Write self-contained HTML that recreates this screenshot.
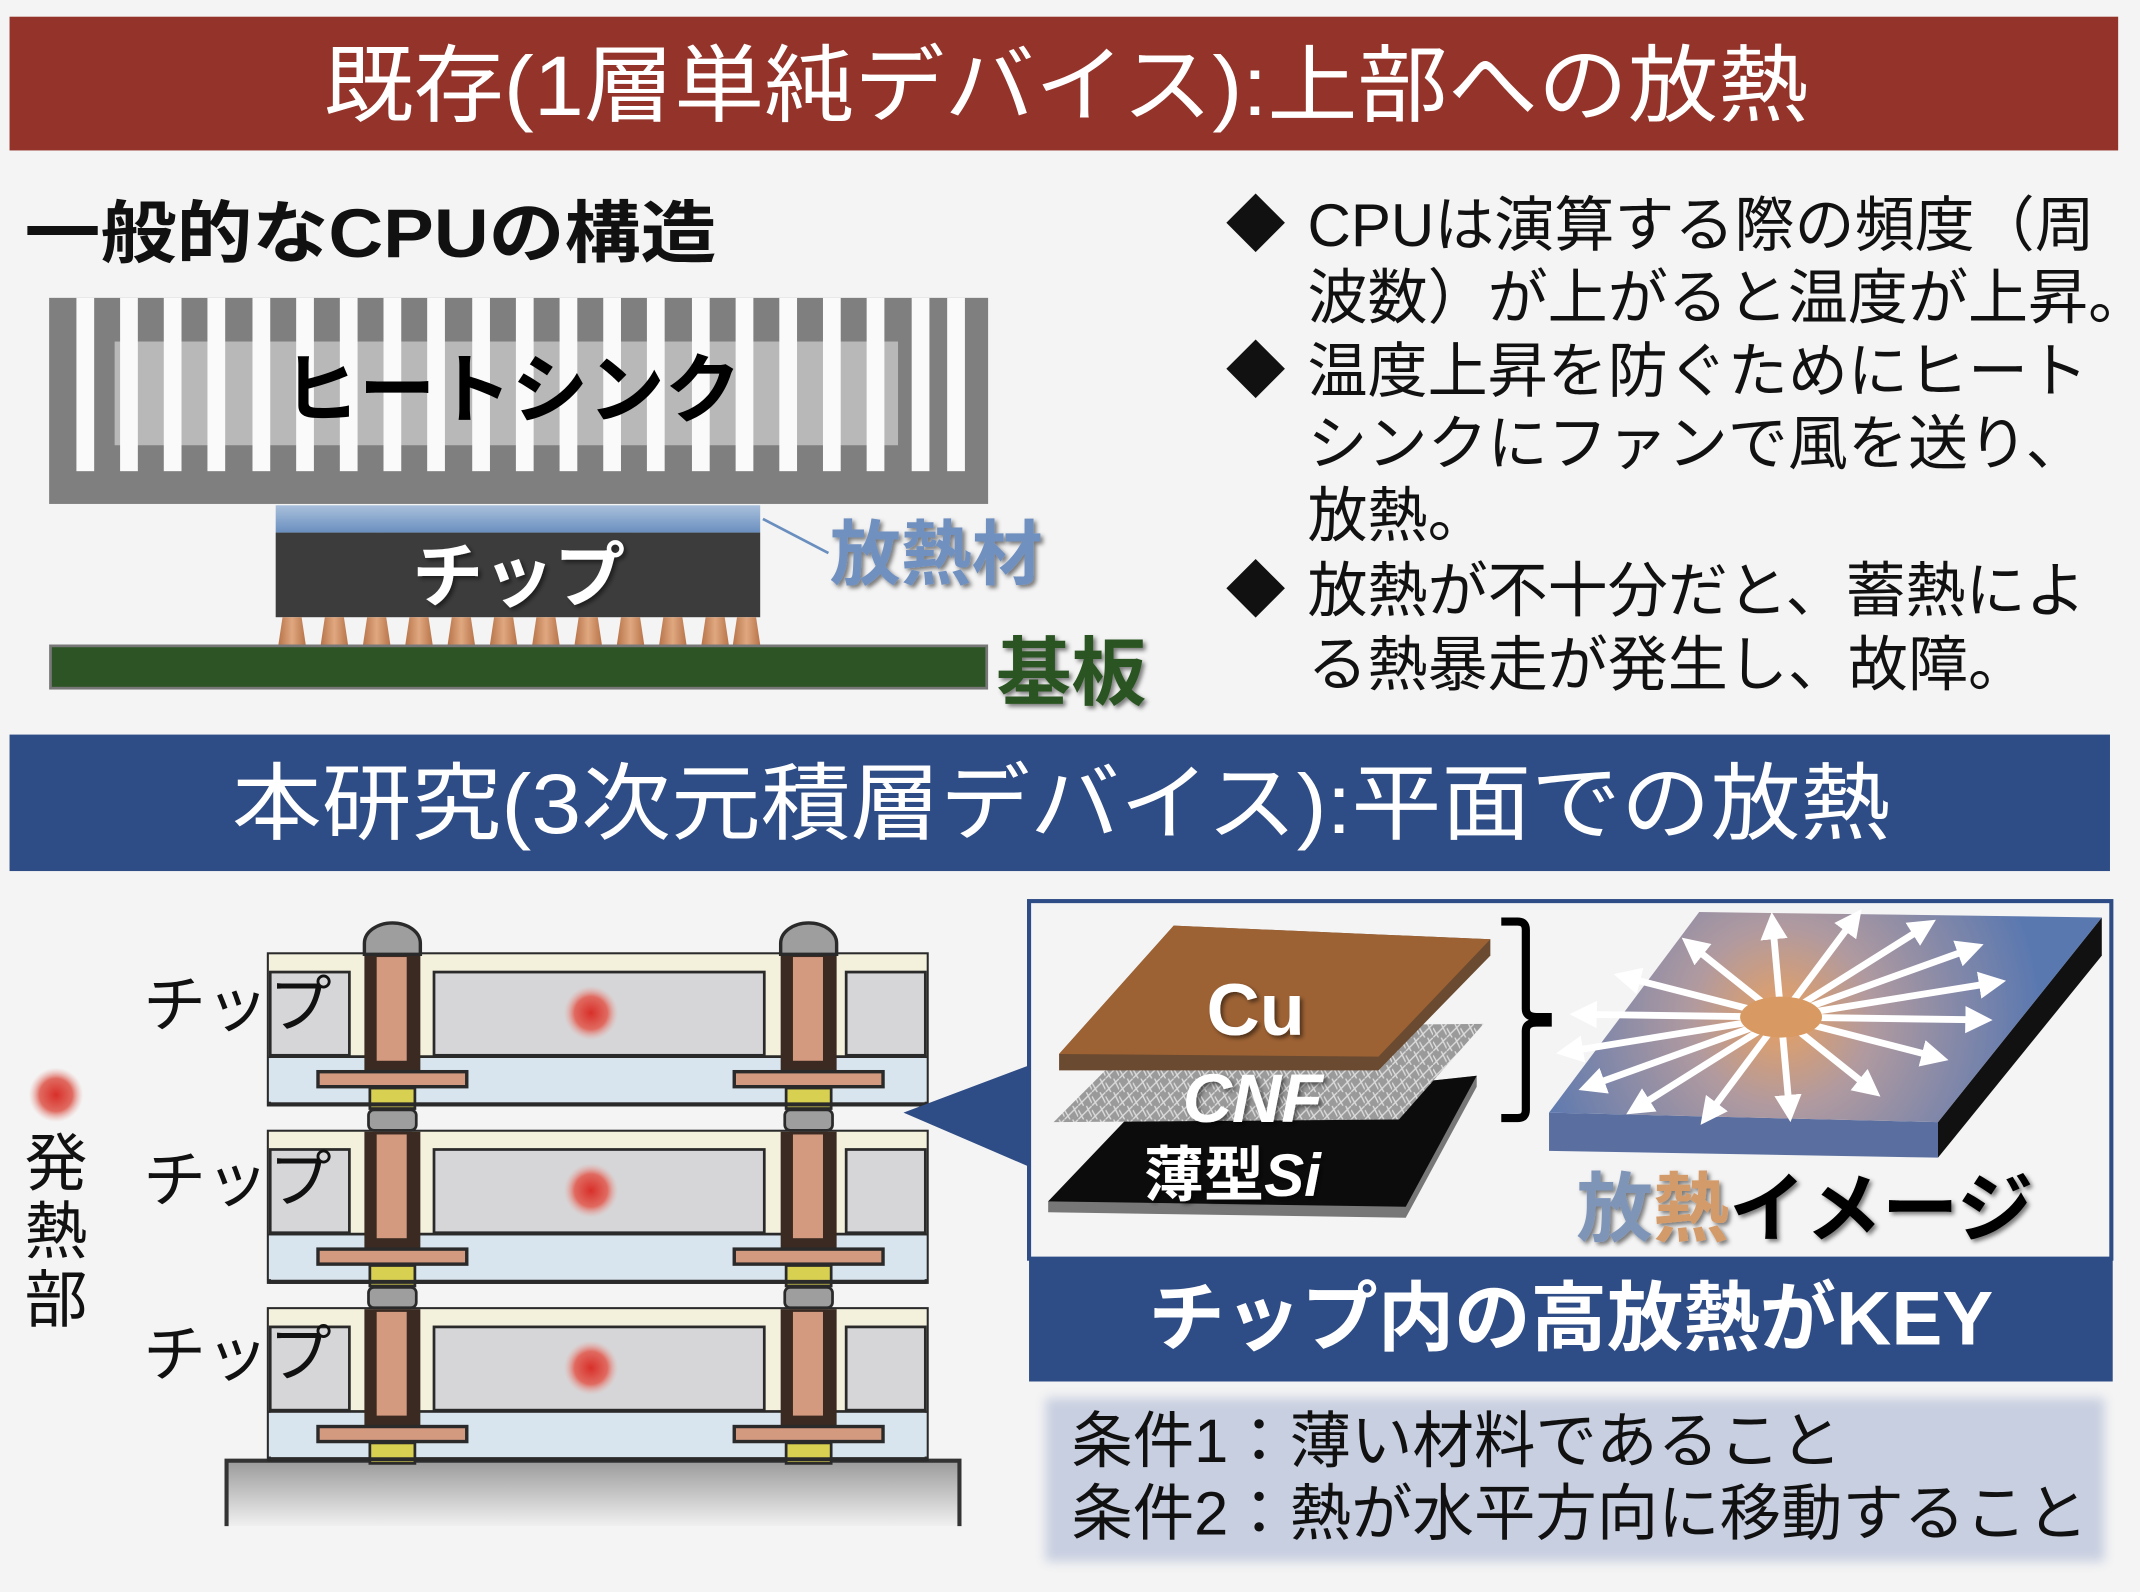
<!DOCTYPE html>
<html><head><meta charset="utf-8"><style>
html,body{margin:0;padding:0;background:#f4f4f4;}
svg{display:block;}
text{font-family:"Liberation Sans","Noto Sans CJK JP",sans-serif;}
</style></head><body>
<svg width="2140" height="1592" viewBox="0 0 1568 1166" xmlns="http://www.w3.org/2000/svg">
<defs>
<radialGradient id="dot"><stop offset="0" stop-color="#d8302a"/><stop offset="0.6" stop-color="#e06a60"/><stop offset="1" stop-color="#e8b0aa" stop-opacity="0"/></radialGradient>
<linearGradient id="base" x1="0" y1="0" x2="0" y2="1"><stop offset="0" stop-color="#9a9a9a"/><stop offset="1" stop-color="#f0f0f0"/></linearGradient>
<linearGradient id="tim" x1="0" y1="0" x2="0" y2="1"><stop offset="0" stop-color="#a9c0dc"/><stop offset="1" stop-color="#6a8fbf"/></linearGradient>
<linearGradient id="bump" x1="0" y1="0" x2="1" y2="0"><stop offset="0" stop-color="#b8744a"/><stop offset="0.5" stop-color="#e0a880"/><stop offset="1" stop-color="#b8744a"/></linearGradient>
<radialGradient id="slab" gradientUnits="userSpaceOnUse" cx="1305" cy="745" r="190"><stop offset="0" stop-color="#e8a060"/><stop offset="0.35" stop-color="#b09aa0"/><stop offset="1" stop-color="#5a78b0"/></radialGradient>
<pattern id="cnf" width="10" height="10" patternUnits="userSpaceOnUse"><rect width="10" height="10" fill="#9a9a9a"/><path d="M0 10L10 0M0 3L4 10M6 0L10 8" stroke="#dcdcdc" stroke-width="1"/></pattern>
<marker id="ah" markerWidth="4" markerHeight="4" refX="2" refY="2" orient="auto"><path d="M0 0L4 2L0 4Z" fill="#fff"/></marker>
<filter id="bl"><feGaussianBlur stdDeviation="4"/></filter>
<filter id="sh"><feDropShadow dx="2" dy="2" stdDeviation="1.5" flood-color="#000" flood-opacity="0.5"/></filter>
</defs>

<rect x="7" y="12" width="1545" height="98" fill="#943329"/>
<text x="237" y="84" font-size="62" fill="#fff" textLength="1088" lengthAdjust="spacingAndGlyphs">既存(1層単純デバイス):上部への放熱</text>

<text x="18" y="188" font-size="50" font-weight="bold" fill="#111" textLength="507" lengthAdjust="spacingAndGlyphs">一般的なCPUの構造</text>

<rect x="36" y="218" width="688" height="151" fill="#7f7f7f"/>
<rect x="84" y="250" width="574" height="76" fill="#b8b8b8"/>
<g fill="#fafafa">
<rect x="56" y="218" width="13" height="127"/><rect x="88" y="218" width="13" height="127"/><rect x="120" y="218" width="13" height="127"/><rect x="152" y="218" width="13" height="127"/><rect x="185" y="218" width="13" height="127"/><rect x="217" y="218" width="13" height="127"/><rect x="249" y="218" width="13" height="127"/><rect x="281" y="218" width="13" height="127"/><rect x="313" y="218" width="13" height="127"/><rect x="346" y="218" width="13" height="127"/><rect x="378" y="218" width="13" height="127"/><rect x="410" y="218" width="13" height="127"/><rect x="442" y="218" width="13" height="127"/><rect x="474" y="218" width="13" height="127"/><rect x="507" y="218" width="13" height="127"/><rect x="539" y="218" width="13" height="127"/><rect x="571" y="218" width="13" height="127"/><rect x="603" y="218" width="13" height="127"/><rect x="635" y="218" width="13" height="127"/><rect x="668" y="218" width="13" height="127"/><rect x="694" y="218" width="13" height="127"/>
</g>
<text x="375" y="305" font-size="56" font-weight="bold" fill="#000" text-anchor="middle">ヒートシンク</text>

<rect x="202" y="370" width="355" height="20" fill="url(#tim)"/>
<rect x="202" y="390" width="355" height="62" fill="#3c3c3c"/>
<text x="380" y="440" font-size="52" font-weight="bold" fill="#fff" text-anchor="middle" filter="url(#sh)">チップ</text>
<g fill="url(#bump)">
<path d="M207 452h14l3 20h-20z"/><path d="M238 452h14l3 20h-20z"/><path d="M269 452h14l3 20h-20z"/><path d="M300 452h14l3 20h-20z"/><path d="M331 452h14l3 20h-20z"/><path d="M362 452h14l3 20h-20z"/><path d="M393 452h14l3 20h-20z"/><path d="M424 452h14l3 20h-20z"/><path d="M455 452h14l3 20h-20z"/><path d="M486 452h14l3 20h-20z"/><path d="M517 452h14l3 20h-20z"/><path d="M540 452h14l3 20h-20z"/>
</g>
<rect x="37" y="473" width="686" height="31" fill="#2c5424" stroke="#777" stroke-width="2"/>
<line x1="559" y1="380" x2="607" y2="405" stroke="#6a8fbf" stroke-width="2"/>
<text x="608" y="424" font-size="52" font-weight="bold" fill="#7090c0" filter="url(#sh)">放熱材</text>
<text x="730" y="512" font-size="55" font-weight="bold" fill="#2c5424" filter="url(#sh)">基板</text>

<g font-size="44" fill="#111">
<text x="898" y="180">◆</text><text x="958" y="180">CPUは演算する際の頻度（周</text>
<text x="958" y="233">波数）が上がると温度が上昇。</text>
<text x="898" y="287">◆</text><text x="958" y="287">温度上昇を防ぐためにヒート</text>
<text x="958" y="340">シンクにファンで風を送り、</text>
<text x="958" y="393">放熱。</text>
<text x="898" y="448">◆</text><text x="958" y="448">放熱が不十分だと、蓄熱によ</text>
<text x="958" y="502">る熱暴走が発生し、故障。</text>
</g>

<rect x="7" y="538" width="1539" height="100" fill="#2e4c85"/>
<text x="170" y="610" font-size="62" fill="#fff" textLength="1215" lengthAdjust="spacingAndGlyphs">本研究(3次元積層デバイス):平面での放熱</text>

<!-- stack -->
<rect x="166" y="1070" width="537" height="48" fill="url(#base)"/>
<path d="M166 1118V1070H703V1118" fill="none" stroke="#333" stroke-width="3"/>
<g id="chip">
<rect x="197" y="699" width="482" height="110" fill="#d8e4ee" stroke="#2a2a2a" stroke-width="3"/>
<rect x="197" y="699" width="482" height="75" fill="#f3f0dc"/>
<rect x="198" y="712" width="58" height="61" fill="#d6d6d8" stroke="#2a2a2a" stroke-width="2"/>
<rect x="318" y="712" width="242" height="61" fill="#d6d6d8" stroke="#2a2a2a" stroke-width="2"/>
<rect x="620" y="712" width="58" height="61" fill="#d6d6d8" stroke="#2a2a2a" stroke-width="2"/>
<line x1="197" y1="774" x2="679" y2="774" stroke="#2a2a2a" stroke-width="2"/>
<rect x="197" y="775" width="482" height="32" fill="#d8e4ee"/>
<rect x="267" y="699" width="41" height="85" fill="#3a2a22"/><rect x="276" y="701" width="22" height="76" fill="#d49a80"/>
<rect x="572" y="699" width="41" height="85" fill="#3a2a22"/><rect x="581" y="701" width="22" height="76" fill="#d49a80"/>
<rect x="233" y="785" width="109" height="11" fill="#d49a80" stroke="#2a2a2a" stroke-width="2.5"/>
<rect x="538" y="785" width="109" height="11" fill="#d49a80" stroke="#2a2a2a" stroke-width="2.5"/>
<rect x="271" y="797" width="33" height="15" fill="#d8d050" stroke="#2a2a2a" stroke-width="2"/>
<rect x="576" y="797" width="33" height="15" fill="#d8d050" stroke="#2a2a2a" stroke-width="2"/>
<line x1="197" y1="809" x2="679" y2="809" stroke="#2a2a2a" stroke-width="3"/>
<circle cx="433" cy="742" r="20" fill="url(#dot)"/>
</g>
<use href="#chip" y="130"/>
<use href="#chip" y="260"/>
<rect x="270" y="813" width="35" height="15" rx="4" fill="#9e9e9e" stroke="#2a2a2a" stroke-width="2"/><rect x="575" y="813" width="35" height="15" rx="4" fill="#9e9e9e" stroke="#2a2a2a" stroke-width="2"/>
<rect x="270" y="943" width="35" height="15" rx="4" fill="#9e9e9e" stroke="#2a2a2a" stroke-width="2"/><rect x="575" y="943" width="35" height="15" rx="4" fill="#9e9e9e" stroke="#2a2a2a" stroke-width="2"/>
<path d="M267 699v-8a20.5 15 0 0 1 41 0v8z" fill="#9e9e9e" stroke="#2a2a2a" stroke-width="2.5"/>
<path d="M572 699v-8a20.5 15 0 0 1 41 0v8z" fill="#9e9e9e" stroke="#2a2a2a" stroke-width="2.5"/>
<g font-size="46" fill="#111">
<text x="105" y="752">チップ</text><text x="105" y="880">チップ</text><text x="105" y="1008">チップ</text>
<text x="18" y="868">発</text><text x="18" y="918">熱</text><text x="18" y="968">部</text>
</g>
<circle cx="41" cy="802" r="20" fill="url(#dot)"/>

<path d="M662 815L755 780V855Z" fill="#2e4c85"/>

<rect x="754" y="660" width="793" height="262" fill="#f4f4f4" stroke="#2e4c85" stroke-width="3"/>
<path d="M768 880L830 815L1082 788L1082 796L1030 892L768 888Z" fill="#777"/>
<path d="M768 880L830 815L1082 788L1030 884Z" fill="#0c0c0c"/>
<path d="M772 822L842 752L1087 750L1025 820Z" fill="url(#cnf)"/>
<path d="M776 772L860 678L1092 688L1092 700L1010 784L776 784Z" fill="#6a4a30"/>
<path d="M776 772L860 678L1092 688L1010 774Z" fill="#9d6234"/>
<text x="920" y="758" font-size="54" font-weight="bold" fill="#fff" text-anchor="middle" filter="url(#sh)">Cu</text>
<text x="918" y="822" font-size="50" font-weight="bold" fill="#fff" text-anchor="middle" font-style="italic" filter="url(#sh)">CNF</text>
<text x="903" y="876" font-size="44" font-weight="bold" fill="#fff" text-anchor="middle" filter="url(#sh)">薄型<tspan font-style="italic">Si</tspan></text>
<path d="M1100 675h12q6 0 6 6v58q0 6 8 6h8v4h-8q-8 0-8 6v58q0 6-6 6h-12" fill="none" stroke="#000" stroke-width="6"/>
<path d="M1135 815L1420 822L1420 848L1135 843Z" fill="#5a6fa0"/>
<path d="M1420 822L1540 672L1540 700L1420 848Z" fill="#111"/>
<path d="M1135 815L1245 668L1540 672L1420 822Z" fill="url(#slab)"/>
<g stroke="#fff" stroke-width="5" marker-end="url(#ah)">
<line x1="1305" y1="745" x2="1450" y2="747"/><line x1="1305" y1="745" x2="1418" y2="774"/><line x1="1305" y1="745" x2="1370" y2="797"/><line x1="1305" y1="745" x2="1311" y2="812"/><line x1="1305" y1="745" x2="1252" y2="816"/><line x1="1305" y1="745" x2="1200" y2="811"/><line x1="1305" y1="745" x2="1166" y2="795"/><line x1="1305" y1="745" x2="1150" y2="770"/><line x1="1305" y1="745" x2="1160" y2="743"/><line x1="1305" y1="745" x2="1192" y2="716"/><line x1="1305" y1="745" x2="1240" y2="693"/><line x1="1305" y1="745" x2="1299" y2="678"/><line x1="1305" y1="745" x2="1358" y2="674"/><line x1="1305" y1="745" x2="1410" y2="679"/><line x1="1305" y1="745" x2="1444" y2="695"/><line x1="1305" y1="745" x2="1460" y2="720"/>
</g>
<ellipse cx="1305" cy="745" rx="30" ry="15" fill="#d89a62"/>
<text x="1155" y="905" font-size="56" font-weight="bold" fill="#000" filter="url(#sh)"><tspan fill="#7f95b8">放</tspan><tspan fill="#d39a6a">熱</tspan>イメージ</text>

<rect x="754" y="922" width="794" height="90" fill="#2e4c85"/>
<text x="1151" y="985" font-size="56" font-weight="bold" fill="#fff" text-anchor="middle">チップ内の高放熱がKEY</text>

<rect x="766" y="1024" width="776" height="120" fill="#c8cfe0" filter="url(#bl)"/>
<g font-size="45" fill="#111">
<text x="785" y="1071">条件1：薄い材料であること</text>
<text x="785" y="1124">条件2：熱が水平方向に移動すること</text>
</g>
</svg>
</body></html>
